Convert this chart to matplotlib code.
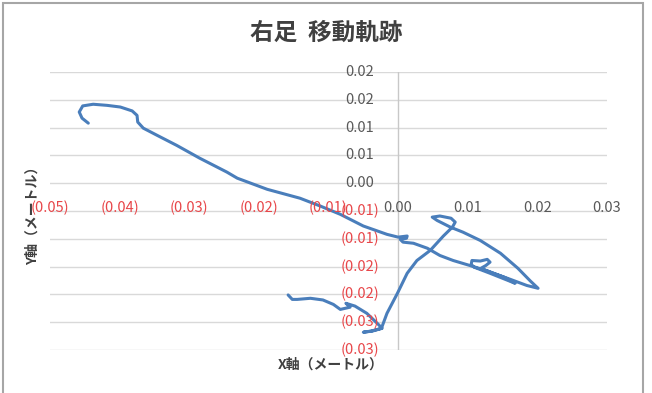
import matplotlib.pyplot as plt
from matplotlib.patches import Rectangle

plt.rcParams['font.family'] = ['Noto Sans CJK JP', 'DejaVu Sans']

# ============= 軌跡データ（メートル） =============
x_m = [-0.0158, -0.0152, -0.0145, -0.0126, -0.0108, -0.0093, -0.0083, -0.0069, -0.0075,
       -0.0062, -0.0045, -0.0030, -0.0023, -0.0037, -0.0050, -0.0039, -0.0024,
       -0.0016, -0.0001, 0.0013, 0.0027, 0.0046, 0.0065, 0.0078, 0.0082, 0.0076,
       0.0060, 0.0049, 0.0056, 0.0075, 0.0093, 0.0118, 0.0147, 0.0172, 0.0190, 0.0201,
       0.0185, 0.0157, 0.0132, 0.0119, 0.0126, 0.0132, 0.0128, 0.0118, 0.0106, 0.0105,
       0.0109, 0.0132, 0.0154, 0.0168,
       0.0152, 0.0129, 0.0103, 0.0079, 0.0060, 0.0042, 0.0022, 0.0007, 0.0003, 0.0012,
       0.0013, 0.0000, -0.0016, -0.0050, -0.0083, -0.0112, -0.0141, -0.0188, -0.0231,
       -0.0246, -0.0285, -0.0318, -0.0346, -0.0366, -0.0374, -0.0375, -0.0382, -0.0399,
       -0.0418, -0.0438, -0.0453, -0.0458, -0.0454, -0.0445]
y_m = [-0.0201, -0.0209, -0.0209, -0.0207, -0.0210, -0.0218, -0.0227, -0.0223, -0.0216,
       -0.0221, -0.0234, -0.0252, -0.0261, -0.0266, -0.0268, -0.0266, -0.0261,
       -0.0234, -0.0198, -0.0162, -0.0139, -0.0121, -0.0095, -0.0079, -0.0070, -0.0063,
       -0.0059, -0.0061, -0.0067, -0.0079, -0.0088, -0.0103, -0.0126, -0.0153, -0.0176, -0.0189,
       -0.0184, -0.0171, -0.0160, -0.0153, -0.0148, -0.0142, -0.0137, -0.0140, -0.0139, -0.0146,
       -0.0151, -0.0162, -0.0173, -0.0180,
       -0.0169, -0.0158, -0.0148, -0.0139, -0.0130, -0.0117, -0.0108, -0.0106, -0.0101, -0.0099,
       -0.0095, -0.0097, -0.0092, -0.0077, -0.0056, -0.0041, -0.0027, -0.0011, 0.0009,
       0.0020, 0.0045, 0.0068, 0.0086, 0.0099, 0.0110, 0.0122, 0.0130, 0.0137,
       0.0140, 0.0142, 0.0139, 0.0128, 0.0117, 0.0108]

# ============= 目盛り =============
x_ticks = [-0.05, -0.04, -0.03, -0.02, -0.01, 0.0, 0.01, 0.02, 0.03]
x_tick_labels = ['(0.05)', '(0.04)', '(0.03)', '(0.02)', '(0.01)', '0.00', '0.01', '0.02', '0.03']
y_ticks = [0.02, 0.015, 0.01, 0.005, 0.0, -0.005, -0.01, -0.015, -0.02, -0.025, -0.03]
y_tick_labels = ['0.02', '0.02', '0.01', '0.01', '0.00', '(0.01)', '(0.01)',
                 '(0.02)', '(0.02)', '(0.03)', '(0.03)']

fig = plt.figure(figsize=(6.52, 3.93), dpi=100)
ax = fig.add_axes([50 / 652, 43 / 393, 557 / 652, 278 / 393])
ax.set_xlim(-0.05, 0.03)
ax.set_ylim(-0.03, 0.02)
for s in ax.spines.values():
    s.set_visible(False)
ax.set_xticks([])
ax.set_yticks(y_ticks)
ax.tick_params(left=False, labelleft=False)
ax.grid(axis='y', color='#d9d9d9', linewidth=1)
ax.axvline(0, color='#c8c8c8', linewidth=1)

ax.plot(x_m, y_m, color='#4a7ebb', linewidth=2.2,
        solid_capstyle='round', solid_joinstyle='round', zorder=3)

neg_color = '#e8474a'
pos_color = '#595959'

# 縦軸ラベル（x=0 の左側）
for v, lab in zip(y_ticks, y_tick_labels):
    ax.annotate(lab, xy=(0, v), xytext=(-27.5, 0), textcoords='offset points',
                ha='center', va='center', fontsize=10.5, annotation_clip=False,
                color=neg_color if lab.startswith('(') else pos_color)

# 横軸ラベル
for v, lab in zip(x_ticks, x_tick_labels):
    ax.annotate(lab, xy=(v, 0), xytext=(0, -18), textcoords='offset points',
                ha='center', va='center', fontsize=10.5, annotation_clip=False,
                color=neg_color if lab.startswith('(') else pos_color)

fig.text(326 / 652, 1 - 33 / 393, '右足  移動軌跡', ha='center', va='center',
         fontsize=17, fontweight='bold', color='#404040')
fig.text(331 / 652, 1 - 365 / 393, 'X軸（メートル）', ha='center', va='center',
         fontsize=10, fontweight='bold', color='#404040')
fig.text(33 / 652, 1 - 212 / 393, 'Y軸（メートル）', ha='center', va='center',
         rotation=90, fontsize=10, fontweight='bold', color='#404040')

fig.patches.append(Rectangle((3 / 652, -0.05), 640 / 652, 1.05 - 3 / 393,
                             transform=fig.transFigure, fill=False,
                             edgecolor='#a6a6a6', linewidth=1.5))

fig.savefig('out.png', dpi=100)
